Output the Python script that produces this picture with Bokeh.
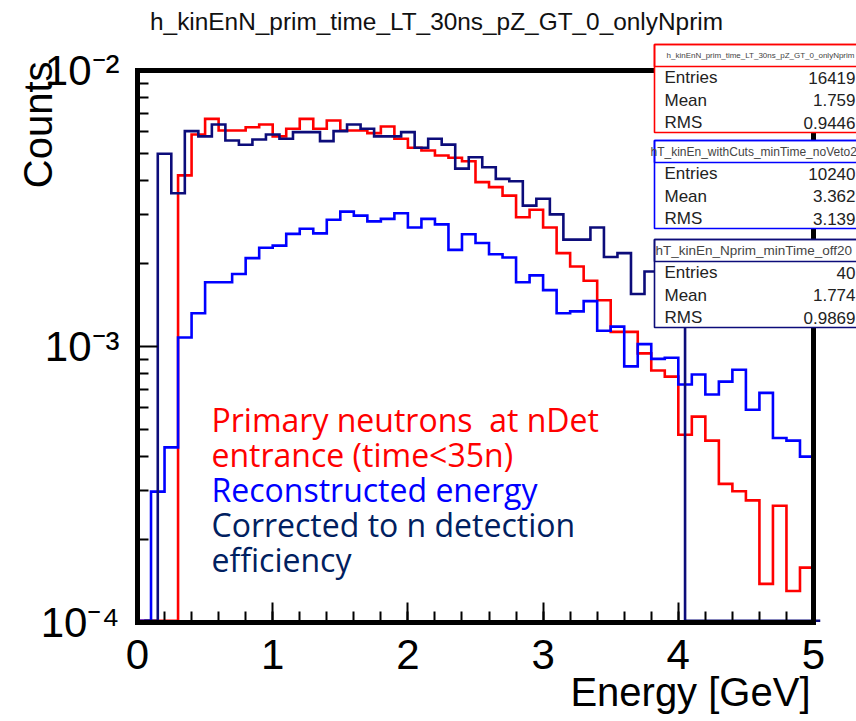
import numpy as np
from bokeh.plotting import figure
from bokeh.models import (Range1d, FixedTicker, SingleIntervalTicker, BoxAnnotation,
                          Label, CustomJSTickFormatter, LinearAxis)
from bokeh.embed import file_html
from bokeh.resources import INLINE

# ---------------- data ----------------
bin_width = 0.1
red_start = 0.0
red_counts = [0, 0, 0, 4.17e-3, 5.86e-3, 6.68e-3, 6.06e-3, 6.06e-3, 6.23e-3, 6.37e-3,
              5.77e-3, 6.15e-3, 6.68e-3, 6.15e-3, 6.59e-3, 6.06e-3, 6.06e-3, 5.93e-3, 6.27e-3, 5.66e-3,
              5.25e-3, 5.13e-3, 4.92e-3, 4.83e-3, 4.69e-3, 3.94e-3, 3.78e-3, 3.52e-3, 2.94e-3, 3.13e-3,
              2.70e-3, 2.18e-3, 1.95e-3, 1.73e-3, 1.47e-3, 1.13e-3, 1.13e-3, 0.944e-3, 0.819e-3, 0.778e-3,
              0.479e-3, 0.557e-3, 0.456e-3, 0.318e-3, 0.299e-3, 0.277e-3, 0.138e-3, 0.265e-3, 0.130e-3, 0.158e-3]

blue_start = 0.0
blue_counts = [0, 0.298e-3, 0.431e-3, 1.078e-3, 1.32e-3, 1.71e-3, 1.71e-3, 1.83e-3, 2.09e-3, 2.28e-3,
               2.32e-3, 2.56e-3, 2.67e-3, 2.57e-3, 2.88e-3, 3.08e-3, 2.98e-3, 2.84e-3, 2.90e-3, 3.04e-3,
               2.70e-3, 2.90e-3, 2.77e-3, 2.24e-3, 2.55e-3, 2.37e-3, 2.16e-3, 2.10e-3, 1.71e-3, 1.81e-3,
               1.60e-3, 1.32e-3, 1.34e-3, 1.46e-3, 1.14e-3, 1.18e-3, 0.847e-3, 1.02e-3, 0.902e-3, 0.910e-3,
               0.728e-3, 0.792e-3, 0.670e-3, 0.746e-3, 0.824e-3, 0.590e-3, 0.679e-3, 0.466e-3, 0.456e-3, 0.399e-3]

navy_start = 0.05
navy_counts = [0, 4.99e-3, 3.59e-3, 6.03e-3, 5.77e-3, 6.37e-3, 5.58e-3, 5.38e-3, 5.62e-3, 5.86e-3,
               5.66e-3, 5.98e-3, 5.98e-3, 5.55e-3, 6.03e-3, 6.37e-3, 6.15e-3, 5.77e-3, 5.77e-3, 5.98e-3,
               5.25e-3, 5.66e-3, 5.39e-3, 4.41e-3, 4.85e-3, 4.46e-3, 4.05e-3, 3.97e-3, 3.24e-3, 3.43e-3,
               3.01e-3, 2.44e-3, 2.44e-3, 2.70e-3, 2.11e-3, 2.18e-3, 1.55e-3, 1.87e-3, 1.70e-3, 1.50e-3,
               0, 0, 0, 0, 0, 0, 0, 0, 0, 0]

y_ticks = [1e-4, 1e-3, 1e-2]

title_text = "h_kinEnN_prim_time_LT_30ns_pZ_GT_0_onlyNprim"
stat_titles = ["h_kinEnN_prim_time_LT_30ns_pZ_GT_0_onlyNprim",
               "hT_kinEn_withCuts_minTime_noVeto2",
               "hT_kinEn_Nprim_minTime_off20"]
stat_entries = ["16419", "10240", "40"]
stat_means = ["1.759", "3.362", "1.774"]
stat_rms = ["0.9446", "3.139", "0.9869"]
legend_lines = ["Primary neutrons\u00a0\u00a0at nDet", "entrance (time<35n)", "Reconstructed energy",
                "Corrected to n detection", "efficiency"]

# ---------------- layout ----------------
W, H = 856, 721
FL, FR, FT, FB = 137, 813, 70, 622        # pixel box of the histogram frame
XMIN, XMAX = 0.0, 5.0
YMIN, YMAX = 1e-4, 1e-2

RED = "#ff0000"
BLUE = "#0000ff"
NAVY = "#0c0c7a"
TXTNAVY = "#002060"


def X(px):
    return XMIN + (px - FL) / (FR - FL) * (XMAX - XMIN)


def Y(py):
    lo, hi = np.log10(YMIN), np.log10(YMAX)
    return 10 ** (hi - (py - FT) / (FB - FT) * (hi - lo))


def step_outline(start, width, vals, floor):
    v = np.maximum(np.asarray(vals, float), floor)
    edges = start + width * np.arange(len(v) + 1)
    xs = np.repeat(edges, 2)
    ys = np.concatenate([[floor], np.repeat(v, 2), [floor]])
    return xs, ys


# the plotting frame covers the whole canvas; the axes sit at fixed locations inside it
p = figure(width=W, height=H, x_range=Range1d(X(0), X(W)), y_range=Range1d(Y(H), Y(0)),
           y_axis_type="log", output_backend="svg", toolbar_location=None, title=None,
           min_border=0, min_border_left=0, min_border_right=0, min_border_top=0, min_border_bottom=0)
p.grid.visible = False
p.background_fill_color = "white"
p.border_fill_color = "white"
p.outline_line_color = None

xa, ya = p.xaxis[0], p.yaxis[0]
xa.fixed_location = YMIN
xa.bounds = (XMIN, XMAX)
ya.fixed_location = XMIN
ya.bounds = (YMIN, YMAX)

top_ax = LinearAxis(fixed_location=YMAX, bounds=(XMIN, XMAX), ticker=FixedTicker(ticks=[]))
right_ax = LinearAxis(fixed_location=XMAX, bounds=(YMIN, YMAX), ticker=FixedTicker(ticks=[]))
p.add_layout(top_ax, "above")
p.add_layout(right_ax, "right")

for ax in (xa, ya, top_ax, right_ax):
    ax.axis_line_width = 5
    ax.axis_line_color = "black"
    ax.axis_line_cap = "square"
    ax.major_tick_in = 20
    ax.major_tick_out = 0
    ax.minor_tick_in = 11
    ax.minor_tick_out = 0
    ax.major_tick_line_width = 2
    ax.minor_tick_line_width = 2
    ax.major_tick_line_color = "black"
    ax.minor_tick_line_color = "black"
    ax.major_label_text_font = "Liberation Sans"
    ax.major_label_text_font_size = "42px"
    ax.major_label_text_color = "black"

xa.ticker = SingleIntervalTicker(interval=1, num_minor_ticks=5)
xa.major_label_standoff = 17
ya.ticker = FixedTicker(ticks=y_ticks,
                        minor_ticks=[m * 10.0 ** e for e in (-4, -3) for m in range(2, 10)])
ya.major_label_standoff = 18
ya.formatter = CustomJSTickFormatter(code="""
const e = Math.round(Math.log10(tick));
const sup = {'-':'\u207b','0':'\u2070','1':'\u00b9','2':'\u00b2','3':'\u00b3','4':'\u2074','5':'\u2075'};
return '10' + String(e).split('').map(c => sup[c]).join('');
""")

floor = YMIN * 1.015
for start, vals, col in ((red_start, red_counts, RED),
                         (blue_start, blue_counts, BLUE),
                         (navy_start, navy_counts, NAVY)):
    xs, ys = step_outline(start, bin_width, vals, floor)
    p.line(xs, ys, line_color=col, line_width=2.6, line_join="miter")

# coloured description text
leg_colors = [RED, RED, BLUE, TXTNAVY, TXTNAVY]
for i, (t, c) in enumerate(zip(legend_lines, leg_colors)):
    p.add_layout(Label(x=X(211), y=Y(419 + 35 * i), text=t, text_color=c,
                       text_font="Open Sans", text_font_size="32px",
                       text_align="left", text_baseline="middle"))

# titles
p.add_layout(Label(x=X(436), y=Y(21), text=title_text, text_font="Liberation Sans",
                   text_font_size="24.4px", text_align="center", text_baseline="middle",
                   text_color="#111111"))
p.add_layout(Label(x=X(37), y=Y(61), text="Counts", angle=np.pi / 2, text_font="Liberation Sans",
                   text_font_size="40px", text_align="right", text_baseline="middle",
                   text_color="black"))
p.add_layout(Label(x=X(810), y=Y(691), text="Energy [GeV]", text_font="Liberation Sans",
                   text_font_size="40px", text_align="right", text_baseline="middle",
                   text_color="black"))

# stat boxes
box_tops = [44, 140, 239]
box_cols = [RED, BLUE, NAVY]
hdr_sizes = ["8px", "12px", "13.5px"]
hdr_x = [760, 650, 655]
hdr_align = ["center", "left", "left"]
for k in range(3):
    t = box_tops[k]
    p.add_layout(BoxAnnotation(left=X(654), right=X(1000), top=Y(t), bottom=Y(t + 88),
                               fill_color="white", fill_alpha=1.0, line_color=box_cols[k],
                               line_alpha=1.0, line_width=1.6, level="overlay"))
    p.add_layout(BoxAnnotation(left=X(654), right=X(1000), top=Y(t), bottom=Y(t + 22),
                               fill_alpha=0.0, line_color=box_cols[k], line_alpha=1.0,
                               line_width=1.6, level="overlay"))
    p.add_layout(Label(x=X(hdr_x[k]), y=Y(t + 11), text=stat_titles[k], text_font="Liberation Sans",
                       text_font_size=hdr_sizes[k], text_align=hdr_align[k], text_baseline="middle",
                       text_color="#444444", level="overlay"))
    for j, (name, val) in enumerate(zip(["Entries", "Mean", "RMS"],
                                        [stat_entries[k], stat_means[k], stat_rms[k]])):
        yy = Y(t + 33 + 22.5 * j)
        p.add_layout(Label(x=X(664), y=yy, text=name, text_font="Liberation Sans",
                           text_font_size="17px", text_align="left", text_baseline="middle",
                           text_color="#222222", level="overlay"))
        p.add_layout(Label(x=X(855), y=yy, text=val, text_font="Liberation Sans",
                           text_font_size="17px", text_align="right", text_baseline="middle",
                           text_color="#222222", level="overlay"))

open("out.html", "w").write(file_html(p, INLINE))
